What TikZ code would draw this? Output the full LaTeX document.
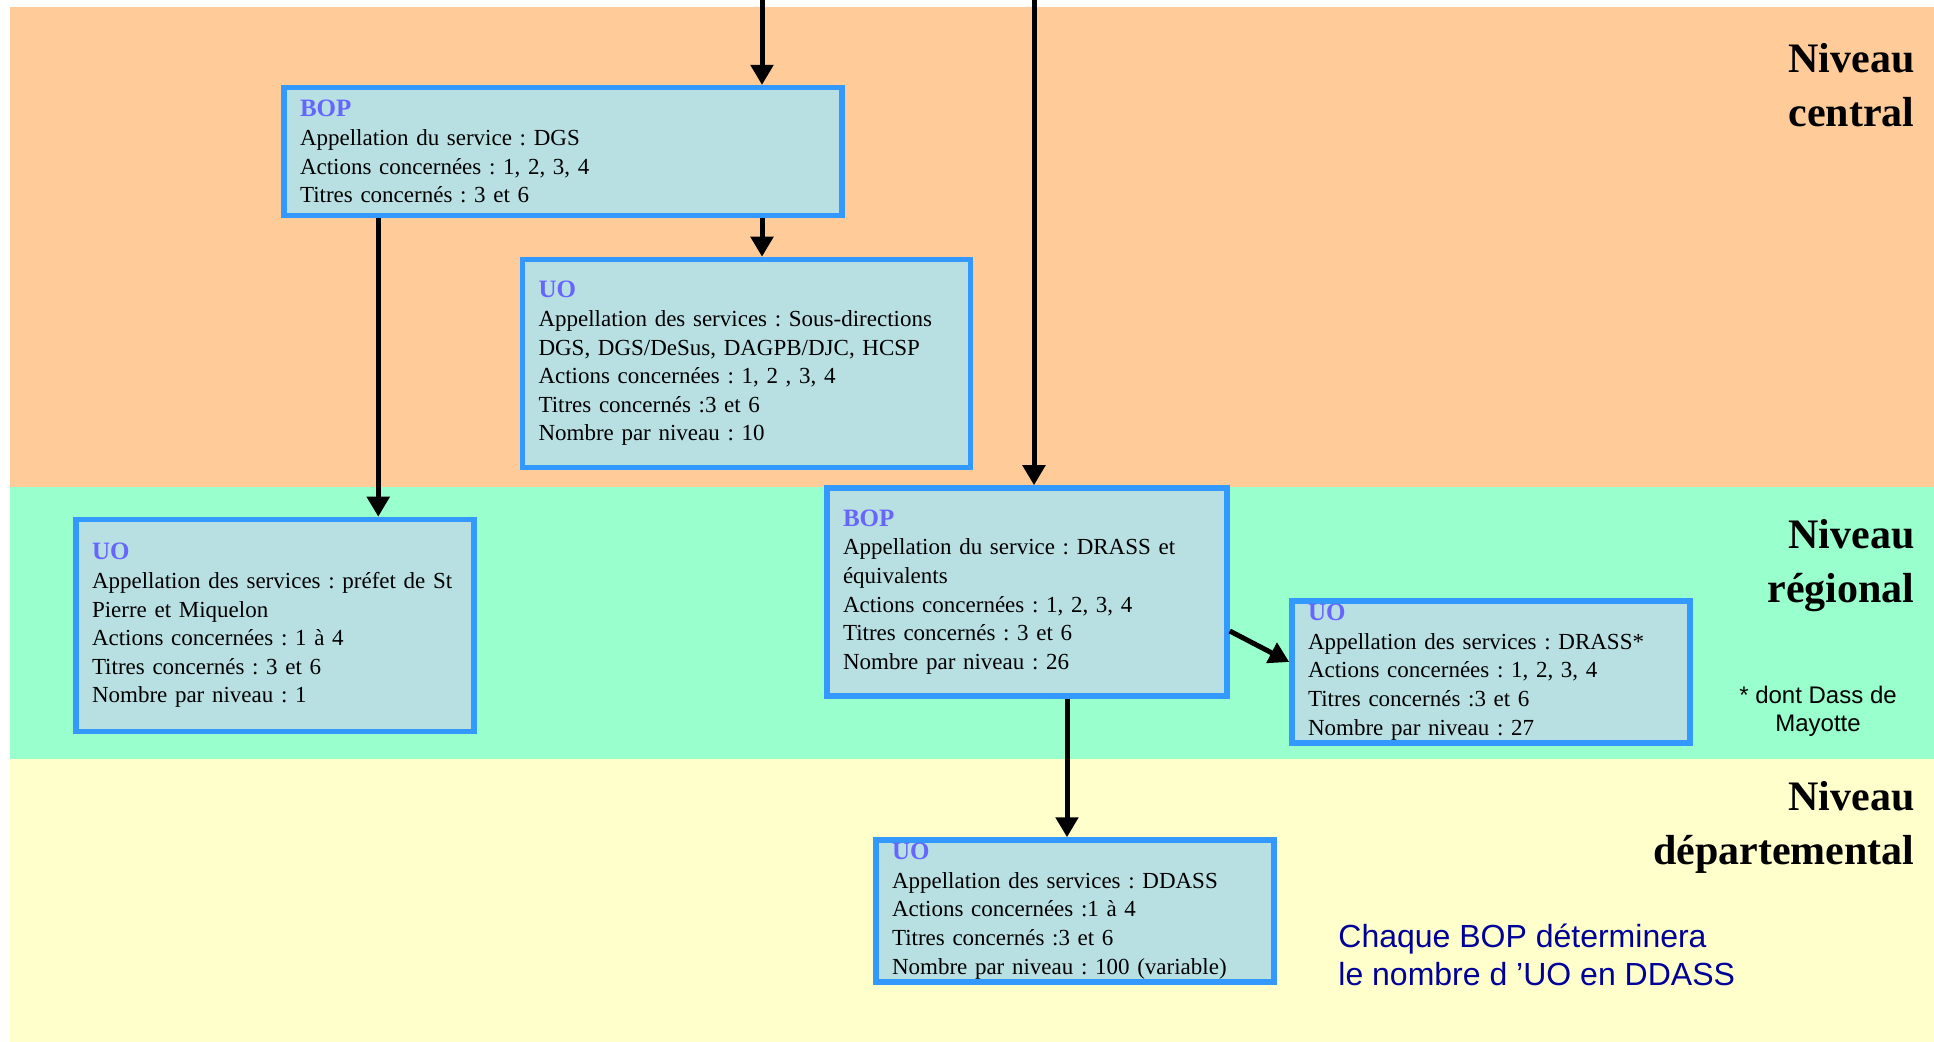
\documentclass[tikz,border=0pt]{standalone}
\usepackage{fontspec}
\setmainfont{Liberation Serif}
\newfontfamily\notesans{Liberation Sans}
\usetikzlibrary{arrows.meta}
\definecolor{BandOrange}{HTML}{FFCC99}
\definecolor{BandGreen}{HTML}{99FFCC}
\definecolor{BandYellow}{HTML}{FFFFCC}
\definecolor{BoxFill}{HTML}{B8DFE2}
\definecolor{BoxBorder}{HTML}{3399FF}
\definecolor{TitleBlue}{HTML}{6666FF}
\definecolor{NoteBlue}{HTML}{000099}
\newcommand\boxtitle[1]{{\color{TitleBlue}\fontsize{12.5}{14.3}\selectfont\bfseries #1}}
\frenchspacing

\begin{document}
\begin{tikzpicture}[x=0.5pt,y=-0.5pt,
    boite/.style={draw=BoxBorder, line width=2.75pt, fill=BoxFill, align=left,
      inner xsep=8pt, inner ysep=1pt, font=\fontsize{11.5}{14.3}\selectfont},
    fleche/.style={-{Triangle[width=11pt,length=10pt]}, line width=2.5pt, black},
    niveau/.style={align=right, anchor=east, inner sep=0pt,
      font=\fontsize{21}{27}\selectfont\bfseries}]
  % bands of the three levels
  \useasboundingbox (0,0) rectangle (1934,1042);
  \fill[white] (0,0) rectangle (1934,1042);
  \fill[BandOrange] (10,7) rectangle (1934,487);
  \fill[BandGreen] (10,487) rectangle (1934,759);
  \fill[BandYellow] (10,759) rectangle (1934,1042);

  \node[boite, text width=263pt, minimum height=64pt] (bopdgs) at (563,151.7)
    {\boxtitle{BOP}\\Appellation du service : DGS\\Actions concernées : 1, 2, 3, 4\\Titres concernés : 3 et 6};
  \node[boite, text width=208pt, minimum height=104pt] (uocentral) at (746.5,363.5)
    {\boxtitle{UO}\\Appellation des services : Sous-directions\\DGS, DGS/DeSus, DAGPB/DJC, HCSP\\Actions concernées : 1, 2 , 3, 4\\Titres concernés :3 et 6\\Nombre par niveau : 10};
  \node[boite, text width=183pt, minimum height=106pt] (uospm) at (275,625.5)
    {\boxtitle{UO}\\Appellation des services : préfet de St\\Pierre et Miquelon\\Actions concernées : 1 à 4\\Titres concernés : 3 et 6\\Nombre par niveau : 1};
  \node[boite, text width=184pt, minimum height=104pt] (bopdrass) at (1027,592)
    {\boxtitle{BOP}\\Appellation du service : DRASS et\\équivalents\\Actions concernées : 1, 2, 3, 4\\Titres concernés : 3 et 6\\Nombre par niveau : 26};
  \node[boite, text width=183pt, minimum height=71pt] (uodrass) at (1491,672)
    {\boxtitle{UO}\\Appellation des services : DRASS*\\Actions concernées : 1, 2, 3, 4\\Titres concernés :3 et 6\\Nombre par niveau : 27};
  \node[boite, text width=183pt, minimum height=71pt] (uoddass) at (1075,911)
    {\boxtitle{UO}\\Appellation des services : DDASS\\Actions concernées :1 à 4\\Titres concernés :3 et 6\\Nombre par niveau : 100 (variable)};

  \coordinate (haut1) at (762,0);
  \coordinate (haut2) at (1034,0);
  \coordinate (pied1) at ([xshift=48.5pt]bopdgs.south west);
  \coordinate (pied4) at ([xshift=20pt]bopdrass.south);

  \draw[fleche] (haut1) -- (haut1 |- bopdgs.north);
  \draw[fleche] (haut1 |- bopdgs.south) -- (haut1 |- uocentral.north);
  \draw[fleche] (pied1) -- (pied1 |- uospm.north);
  \draw[fleche] (haut2) -- (haut2 |- bopdrass.north);
  \draw[fleche] ([yshift=-19.5pt]bopdrass.east) -- ([yshift=5pt]uodrass.west);
  \draw[fleche] (pied4) -- (pied4 |- uoddass.north);

  \node[niveau] (central) at (1915,85) {Niveau\\central};
  \node[niveau] (regional) at (1915,566) {Niveau\\régional\hspace{5pt}};
  \node[niveau] (departemental) at (1915,827) {Niveau\\départemental};
  \node[font=\notesans\fontsize{12}{14}\selectfont, align=center, inner sep=0pt] (mayotte) at (1818,711)
    {* dont Dass de\\Mayotte};
  \node[font=\notesans\fontsize{16}{19}\selectfont, text=NoteBlue, align=left, anchor=west, inner sep=0pt] (note) at (1338,955)
    {Chaque BOP déterminera\\le nombre d ’UO en DDASS};
\end{tikzpicture}
\end{document}
